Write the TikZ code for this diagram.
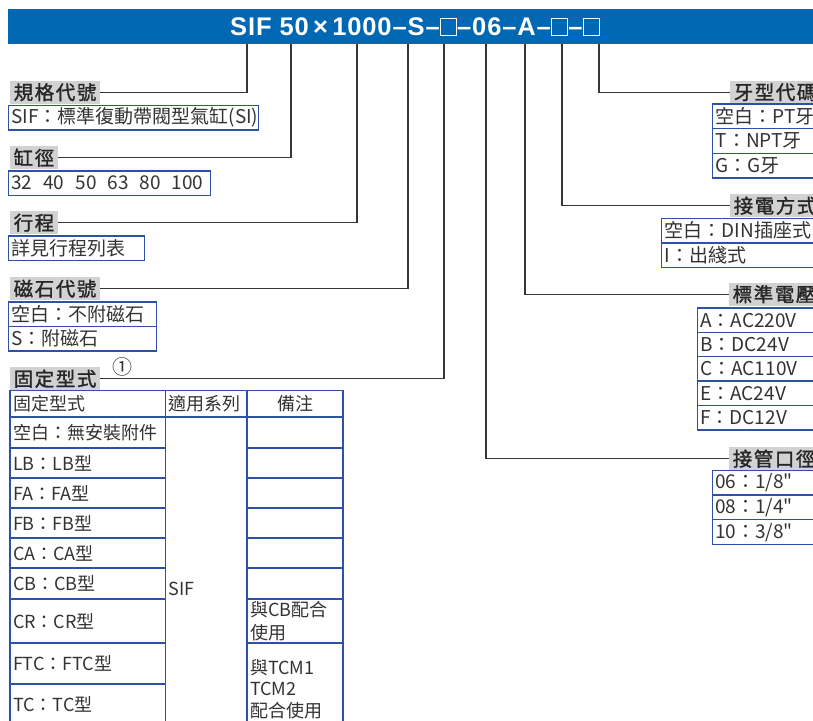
\documentclass[tikz,border=0pt]{standalone}
\usepackage{fontspec}
\setmainfont{Noto Sans CJK TC}
\newfontfamily\bannerfont{Liberation Sans}[LetterSpace=3.5]
\newfontfamily\tagfont{Noto Sans CJK TC}[LetterSpace=8, FakeBold=1.4]
\usetikzlibrary{positioning}

\definecolor{bannerblue}{RGB}{0,103,178}
\definecolor{cellblue}{RGB}{45,82,165}
\definecolor{taggray}{RGB}{210,210,210}
\definecolor{leadgray}{RGB}{55,55,55}

% empty slot in the order code
\newcommand{\slotbox}{{\fboxsep=0pt\fboxrule=1.2pt\fbox{\rule{0pt}{16pt}\hspace{15pt}}}}
\newcommand{\inch}{\XeTeXglyph\XeTeXcharglyph"22\relax}

\tikzset{
  tag/.style={fill=taggray, anchor=north west, minimum height=23pt,
    inner xsep=3.5pt, inner ysep=0pt, text=black!85,
    font=\tagfont\fontsize{19.5}{20}\selectfont},
  cell/.style={draw=cellblue, line width=1.3pt, outer sep=0pt,
    inner xsep=3pt, inner ysep=0pt, minimum height=24.5pt,
    text width=#1, align=left, text=black!80,
    font=\fontsize{19}{22}\selectfont},
  tcell/.style={cell=#1, anchor=north west, font=\fontsize{18}{23}\selectfont},
  lead/.style={draw=leadgray, line width=1.1pt},
}

\begin{document}
\begin{tikzpicture}[x=1pt, y=-1pt]
  \useasboundingbox (0,0) rectangle (813,720);
  \clip (0,0) rectangle (813,720);

  % order code
  \node[fill=bannerblue, anchor=north west, minimum width=830pt,
        minimum height=34.5pt, inner sep=0pt] (banner) at (8,9) {};
  \node[anchor=base west, text=white, inner sep=0pt,
        font=\bannerfont\bfseries\fontsize{25.5}{26}\selectfont] (code) at (230,35)
        {SIF 50\,×\,1000–S–\slotbox–06–A–\slotbox–\slotbox};

  \coordinate (tSpec)   at (247,43.5);
  \coordinate (tBore)   at (291,43.5);
  \coordinate (tStroke) at (357,43.5);
  \coordinate (tMag)    at (408,43.5);
  \coordinate (tMount)  at (444,43.5);
  \coordinate (tPort)   at (486,43.5);
  \coordinate (tVolt)   at (525,43.5);
  \coordinate (tWire)   at (562,43.5);
  \coordinate (tThread) at (599,43.5);

  % left side
  \node[tag] (specTag) at (10,80.5) {規格代號};
  \node[cell=244pt, below=1.5pt of specTag.south west, anchor=north west, xshift=-1.7pt]
        (specBox) {SIF：標準復動帶閥型氣缸(SI)};

  \node[tag] (boreTag) at (10,146) {缸徑};
  \node[cell=196pt, below=1.5pt of boreTag.south west, anchor=north west, xshift=-1.7pt]
        (boreBox) {32\hspace{11pt}40\hspace{11pt}50\hspace{11pt}63\hspace{11pt}80\hspace{11pt}100};

  \node[tag] (strokeTag) at (10,211) {行程};
  \node[cell=130pt, below=1.5pt of strokeTag.south west, anchor=north west, xshift=-1.7pt]
        (strokeBox) {詳見行程列表};

  \node[tag] (magTag) at (10,277) {磁石代號};
  \node[cell=142pt, below=1.5pt of magTag.south west, anchor=north west, xshift=-1.7pt]
        (magNone) {空白：不附磁石};
  \node[cell=142pt, below=0pt of magNone] (magS) {S：附磁石};

  \node[tag] (mountTag) at (10,367) {固定型式};
  \node[font=\fontsize{20}{20}\selectfont, text=black!80, inner sep=0pt]
        (noteOne) at (122,366.5) {①};

  % mounting table
  \node[tcell=149.5pt, minimum height=26.5pt] (hdType) at (10,390.5) {固定型式};
  \node[tcell=75.5pt, minimum height=26.5pt, at=(hdType.north east)] (hdSeries) {適用系列};
  \node[tcell=90pt, minimum height=26.5pt, at=(hdSeries.north east), align=center] (hdNote) {備注};

  \node[tcell=149.5pt, minimum height=31pt, below=0pt of hdType]  (mtNone) {空白：無安裝附件};
  \node[tcell=149.5pt, minimum height=30pt, below=0pt of mtNone]  (mtLB)   {LB：LB型};
  \node[tcell=149.5pt, minimum height=30pt, below=0pt of mtLB]    (mtFA)   {FA：FA型};
  \node[tcell=149.5pt, minimum height=30pt, below=0pt of mtFA]    (mtFB)   {FB：FB型};
  \node[tcell=149.5pt, minimum height=30pt, below=0pt of mtFB]    (mtCA)   {CA：CA型};
  \node[tcell=149.5pt, minimum height=31pt, below=0pt of mtCA]    (mtCB)   {CB：CB型};
  \node[tcell=149.5pt, minimum height=44pt, below=0pt of mtCB]    (mtCR)   {CR：CR型};
  \node[tcell=149.5pt, minimum height=41pt, below=0pt of mtCR]    (mtFTC)  {FTC：FTC型};
  \node[tcell=149.5pt, minimum height=41pt, below=0pt of mtFTC]   (mtTC)   {TC：TC型};

  \node[tcell=75.5pt, minimum height=343pt, below=0pt of hdSeries] (serBody) {SIF};

  \node[tcell=90pt, minimum height=31pt, below=0pt of hdNote]  (ntNone) {};
  \node[tcell=90pt, minimum height=30pt, below=0pt of ntNone]  (ntLB)   {};
  \node[tcell=90pt, minimum height=30pt, below=0pt of ntLB]    (ntFA)   {};
  \node[tcell=90pt, minimum height=30pt, below=0pt of ntFA]    (ntFB)   {};
  \node[tcell=90pt, minimum height=30pt, below=0pt of ntFB]    (ntCA)   {};
  \node[tcell=90pt, minimum height=31pt, below=0pt of ntCA]    (ntCB)   {};
  \node[tcell=90pt, minimum height=44pt, below=0pt of ntCB]    (ntCR)   {與CB配合\\使用};
  \node[tcell=90pt, minimum height=92pt, below=0pt of ntCR,
        font=\fontsize{18}{21.5}\selectfont] (ntTC) {與TCM1\\TCM2\\配合使用};

  % right side
  \node[tag] (threadTag) at (730,80.5) {牙型代碼};
  \node[cell=150pt, minimum height=24.7pt, below=0pt of threadTag.south west,
        anchor=north west, xshift=-17.3pt] (thPT) {空白：PT牙};
  \node[cell=150pt, minimum height=24.7pt, below=0pt of thPT]  (thNPT) {T：NPT牙};
  \node[cell=150pt, minimum height=24.7pt, below=0pt of thNPT] (thG)   {G：G牙};

  \node[tag] (wireTag) at (730,194) {接電方式};
  \node[cell=200pt, below=1pt of wireTag.south west, anchor=north west, xshift=-68.3pt]
        (wrDIN) {空白：DIN插座式};
  \node[cell=200pt, below=0pt of wrDIN] (wrLead) {I：出綫式};

  \node[tag] (voltTag) at (729,282.5) {標準電壓};
  \node[cell=150pt, minimum height=24.4pt, below=2pt of voltTag.south west,
        anchor=north west, xshift=-31.7pt] (vA) {A：AC220V};
  \node[cell=150pt, minimum height=24.4pt, below=0pt of vA] (vB) {B：DC24V};
  \node[cell=150pt, minimum height=24.4pt, below=0pt of vB] (vC) {C：AC110V};
  \node[cell=150pt, minimum height=24.4pt, below=0pt of vC] (vE) {E：AC24V};
  \node[cell=150pt, minimum height=24.4pt, below=0pt of vE] (vF) {F：DC12V};

  \node[tag] (portTag) at (729,447) {接管口徑};
  \node[cell=150pt, minimum height=24.7pt, below=0pt of portTag.south west,
        anchor=north west, xshift=-16.7pt] (p06) {06：1/8\inch};
  \node[cell=150pt, minimum height=24.7pt, below=0pt of p06] (p08) {08：1/4\inch};
  \node[cell=150pt, minimum height=24.7pt, below=0pt of p08] (p10) {10：3/8\inch};

  % leader lines
  \draw[lead] (tSpec)   |- (specTag.east);
  \draw[lead] (tBore)   |- (boreTag.east);
  \draw[lead] (tStroke) |- (strokeTag.east);
  \draw[lead] (tMag)    |- (magTag.east);
  \draw[lead] (tMount)  |- (mountTag.east);
  \draw[lead] (tPort)   |- (portTag.west);
  \draw[lead] (tVolt)   |- (voltTag.west);
  \draw[lead] (tWire)   |- (wireTag.west);
  \draw[lead] (tThread) |- (threadTag.west);
\end{tikzpicture}
\end{document}
